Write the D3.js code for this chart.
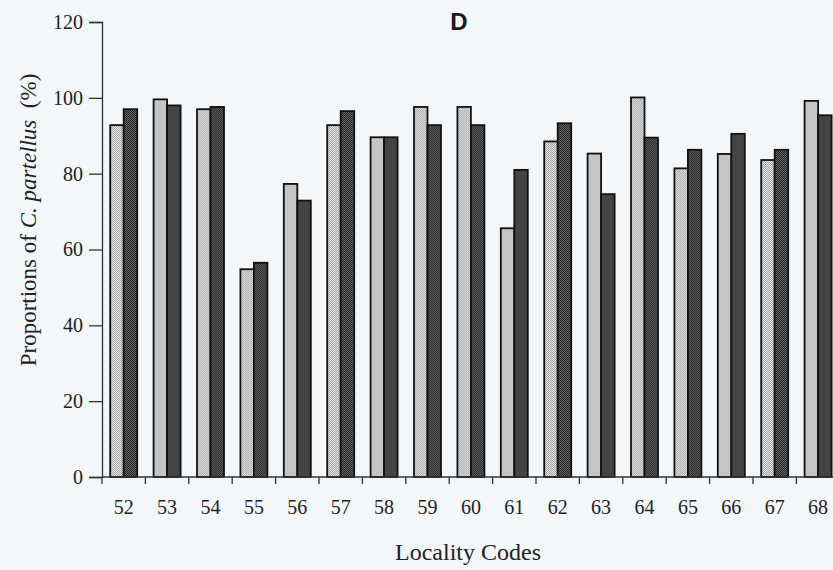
<!DOCTYPE html>
<html>
<head>
<meta charset="utf-8">
<script src="https://cdn.jsdelivr.net/npm/d3@7/dist/d3.min.js"></script>
<style>
  html, body { margin: 0; padding: 0; background: #f3f7fa; }
  svg { display: block; }
</style>
</head>
<body>
<svg id="chart" width="833" height="570"></svg>
<script>
// Locality codes along the x axis
const localities = ["52","53","54","55","56","57","58","59","60","61","62","63","64","65","66","67","68"];
// Proportions of C. partellus (%) for the two sampling series
const seriesLight = [92.8, 99.6, 97.0, 54.8, 77.3, 92.8, 89.6, 97.6, 97.6, 65.6, 88.5, 85.3, 100.1, 81.4, 85.2, 83.6, 99.2];
const seriesDark  = [97.0, 98.0, 97.6, 56.5, 72.9, 96.5, 89.6, 92.8, 92.8, 81.0, 93.3, 74.6, 89.5, 86.3, 90.5, 86.3, 95.4];
const yTicks = [0, 20, 40, 60, 80, 100, 120];

(function () {
  const svg = d3.select("#chart");
  const plotLeft = 102, plotTop = 22, plotBottom = 477, band = 43.4;

  // Two-tone dot patterns for the bar fills
  const defs = svg.append("defs");
  function dots(id, a, b) {
    const p = defs.append("pattern").attr("id", id)
      .attr("width", 2).attr("height", 2).attr("patternUnits", "userSpaceOnUse");
    p.append("rect").attr("width", 2).attr("height", 2).attr("fill", a);
    p.append("rect").attr("width", 1).attr("height", 1).attr("fill", b);
    p.append("rect").attr("x", 1).attr("y", 1).attr("width", 1).attr("height", 1).attr("fill", b);
  }
  dots("dotLight", "#e2e2e2", "#a8a8a8");
  dots("dotDark", "#666666", "#222222");

  const x = d3.scaleBand().domain(localities).range([plotLeft, plotLeft + band * localities.length]).padding(0);
  const y = d3.scaleLinear().domain([0, 120]).range([plotBottom, plotTop]);
  const half = 13.5;
  const x1 = d3.scaleBand().domain(["light", "dark"])
    .range([x.bandwidth() / 2 - half, x.bandwidth() / 2 + half]).padding(0);

  const rows = localities.map((c, i) => ({ c, light: seriesLight[i], dark: seriesDark[i] }));

  const g = svg.append("g");
  const groups = g.selectAll("g.loc").data(rows).join("g")
    .attr("class", "loc")
    .attr("transform", d => `translate(${x(d.c)},0)`);

  groups.selectAll("rect")
    .data(d => [{ k: "light", v: d.light }, { k: "dark", v: d.dark }])
    .join("rect")
    .attr("x", d => x1(d.k))
    .attr("y", d => y(d.v))
    .attr("width", x1.bandwidth())
    .attr("height", d => y(0) - y(d.v))
    .attr("fill", d => d.k === "light" ? "url(#dotLight)" : "url(#dotDark)")
    .attr("stroke", "#111")
    .attr("stroke-width", 1.8);

  // Y axis
  const yAxis = svg.append("g")
    .attr("transform", `translate(${plotLeft},0)`)
    .call(d3.axisLeft(y).tickValues(yTicks).tickSize(13).tickPadding(6).tickFormat(d3.format("d")));
  yAxis.selectAll("text").attr("font-family", "Liberation Serif, Times New Roman, serif")
    .attr("font-size", 20).attr("fill", "#222");
  yAxis.selectAll("line, path").attr("stroke", "#333").attr("stroke-width", 1.3);

  // X axis: ticks sit between locality groups
  const xAxis = svg.append("g").attr("transform", `translate(0,${plotBottom})`);
  xAxis.append("line").attr("x1", plotLeft).attr("x2", x.range()[1]).attr("stroke", "#333").attr("stroke-width", 1.3);
  const bounds = localities.map(c => x(c)).concat([x.range()[1]]);
  xAxis.selectAll("line.tk").data(bounds).join("line").attr("class", "tk")
    .attr("x1", d => d).attr("x2", d => d).attr("y1", 0).attr("y2", 7)
    .attr("stroke", "#333").attr("stroke-width", 1.3);
  xAxis.selectAll("text").data(localities).join("text")
    .attr("x", d => x(d) + x.bandwidth() / 2)
    .attr("y", 37)
    .attr("text-anchor", "middle")
    .attr("font-family", "Liberation Serif, Times New Roman, serif")
    .attr("font-size", 20).attr("fill", "#222")
    .text(d => d);

  // Axis titles
  svg.append("text")
    .attr("x", 468).attr("y", 560)
    .attr("text-anchor", "middle")
    .attr("font-family", "Liberation Serif, Times New Roman, serif")
    .attr("font-size", 24).attr("fill", "#222")
    .text("Locality Codes");

  const yt = svg.append("text")
    .attr("transform", "translate(36,220) rotate(-90)")
    .attr("text-anchor", "middle")
    .attr("font-family", "Liberation Serif, Times New Roman, serif")
    .attr("font-size", 23).attr("fill", "#222");
  yt.append("tspan").text("Proportions of ");
  yt.append("tspan").attr("font-style", "italic").text("C. partellus");
  yt.append("tspan").text("\u00a0\u00a0(%)");

  // Panel letter
  svg.append("text")
    .attr("x", 459).attr("y", 30)
    .attr("text-anchor", "middle")
    .attr("font-family", "Liberation Sans, Arial, sans-serif")
    .attr("font-weight", "bold")
    .attr("font-size", 24).attr("fill", "#1a1a1a")
    .text("D");
})();
</script>
</body>
</html>
